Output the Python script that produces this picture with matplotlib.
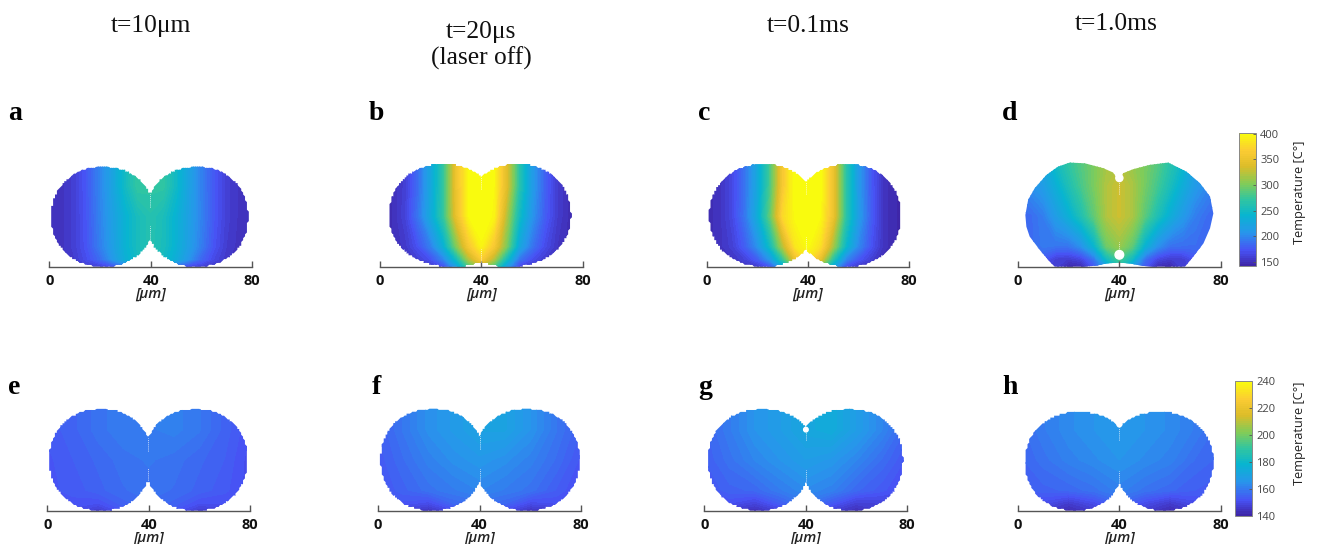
import numpy as np
import matplotlib
matplotlib.use("Agg")
import matplotlib.pyplot as plt
from matplotlib.colors import LinearSegmentedColormap, Normalize
from matplotlib.cm import ScalarMappable
from matplotlib.patches import Polygon, Circle

W, H = 1318, 544

parula_pos = [0.0, 0.11, 0.25, 0.38, 0.5, 0.62, 0.75, 0.87, 1.0]
parula_rgb = [(.2422, .1504, .6603), (.2810, .3228, .9579), (.1540, .5902, .9218),
              (.0297, .7082, .8163), (.1938, .7758, .6251), (.5044, .7993, .3480),
              (.8634, .7406, .1596), (.9856, .80, .20), (.9763, .9831, .0538)]
parula = LinearSegmentedColormap.from_list("parula", list(zip(parula_pos, parula_rgb)), N=64)

heights = [0, 3, 8, 20, 32, 41]

# temperature, rows bottom to top, columns evenly spaced over 0-80 um
temp_a = [
    [150, 150, 152, 158, 160, 170, 190, 225, 245, 225, 185, 165, 160, 155, 152, 150, 150],
    [150, 152, 158, 170, 185, 210, 235, 250, 258, 250, 232, 208, 182, 166, 155, 150, 150],
    [150, 153, 160, 174, 195, 216, 238, 254, 262, 254, 237, 216, 194, 172, 158, 152, 150],
    [150, 153, 160, 175, 197, 218, 238, 254, 263, 255, 238, 218, 197, 175, 160, 153, 150],
    [150, 153, 160, 176, 198, 222, 250, 272, 270, 270, 248, 220, 196, 175, 160, 153, 150],
    [150, 153, 160, 176, 198, 222, 250, 272, 270, 270, 248, 220, 196, 175, 160, 153, 150],
]
temp_b = [
    [148, 148, 150, 152, 155, 170, 215, 280, 320, 280, 215, 165, 155, 150, 148, 146, 145],
    [148, 149, 152, 160, 172, 198, 250, 320, 365, 320, 252, 190, 170, 158, 150, 147, 145],
    [148, 150, 156, 172, 195, 235, 300, 360, 395, 360, 300, 225, 190, 168, 154, 148, 145],
    [148, 150, 162, 190, 228, 272, 345, 398, 410, 395, 320, 250, 208, 178, 158, 148, 145],
    [148, 150, 160, 185, 225, 270, 350, 400, 410, 398, 340, 265, 215, 180, 158, 148, 145],
    [148, 150, 160, 185, 225, 270, 350, 400, 410, 398, 340, 265, 215, 180, 158, 148, 145],
]
temp_c = [
    [146, 148, 150, 153, 156, 172, 225, 300, 340, 300, 225, 170, 155, 150, 146, 144, 143],
    [146, 150, 153, 162, 178, 210, 270, 350, 385, 345, 265, 200, 175, 160, 148, 145, 143],
    [148, 152, 160, 178, 205, 250, 320, 385, 400, 380, 315, 245, 200, 172, 152, 146, 143],
    [148, 152, 165, 190, 230, 290, 375, 400, 408, 398, 350, 268, 215, 178, 152, 146, 143],
    [148, 152, 165, 188, 225, 280, 360, 405, 410, 402, 350, 268, 212, 176, 152, 146, 143],
    [148, 152, 165, 188, 225, 280, 360, 405, 410, 402, 350, 268, 212, 176, 152, 146, 143],
]
temp_d = [
    [165, 160, 165, 160, 145, 148, 175, 215, 260, 215, 175, 148, 145, 160, 165, 165, 165],
    [175, 172, 175, 160, 158, 165, 190, 250, 280, 250, 188, 165, 158, 160, 172, 172, 170],
    [185, 185, 192, 190, 190, 205, 240, 295, 310, 290, 238, 205, 188, 186, 186, 182, 180],
    [185, 185, 195, 215, 235, 260, 290, 320, 330, 318, 288, 258, 233, 212, 195, 185, 180],
    [195, 205, 215, 235, 258, 280, 300, 320, 330, 318, 298, 278, 255, 232, 212, 200, 190],
    [200, 215, 225, 250, 270, 285, 300, 315, 320, 310, 300, 285, 265, 245, 215, 205, 195],
]
temp_e = [
    [150, 150, 146, 152, 155, 152, 146, 148, 148],
    [151, 152, 151, 155, 157, 155, 151, 151, 150],
    [152, 153, 155, 157, 158, 157, 155, 153, 150],
    [152, 154, 156, 158, 159, 158, 156, 154, 150],
    [153, 155, 158, 160, 160, 161, 159, 155, 151],
    [153, 155, 158, 160, 160, 161, 159, 155, 151],
]
temp_f = [
    [148, 147, 144, 150, 154, 150, 144, 146, 146],
    [150, 152, 150, 156, 158, 156, 150, 151, 148],
    [152, 155, 158, 160, 162, 160, 158, 154, 150],
    [153, 157, 161, 164, 166, 164, 161, 157, 152],
    [154, 159, 164, 167, 170, 170, 165, 159, 154],
    [154, 159, 164, 167, 170, 170, 165, 159, 154],
]
temp_g = [
    [148, 146, 143, 148, 155, 147, 143, 146, 146],
    [150, 151, 148, 154, 159, 153, 147, 148, 148],
    [152, 155, 156, 160, 163, 161, 156, 153, 150],
    [154, 158, 162, 165, 168, 166, 162, 157, 152],
    [155, 160, 165, 168, 172, 174, 168, 162, 155],
    [155, 160, 165, 168, 172, 174, 168, 162, 155],
]
temp_h = [
    [150, 146, 142, 146, 152, 146, 142, 146, 150],
    [152, 150, 146, 150, 156, 150, 146, 150, 152],
    [153, 155, 156, 158, 161, 158, 156, 154, 153],
    [155, 158, 161, 163, 165, 163, 161, 157, 155],
    [156, 160, 163, 165, 166, 165, 163, 160, 156],
    [156, 160, 163, 165, 166, 165, 163, 160, 156],
]

# silhouette read in um: left edge, neck x, right edge, top, notch top, notch bottom
shapes = {
    "a": (0.8, 39.8, 78.5, 39.5, 28.5, 10.9),
    "b": (3.6, 40.0, 75.4, 40.5, 35.5, 2.0),
    "c": (1.0, 39.3, 76.8, 40.5, 33.6, 6.8),
    "e": (0.7, 39.8, 79.0, 40.2, 28.7, 12.0),
    "f": (1.0, 40.0, 79.5, 40.2, 29.5, 11.5),
    "g": (1.4, 40.1, 78.4, 40.2, 33.0, 11.0),
    "h": (2.8, 40.0, 77.1, 39.0, 33.0, 10.7),
}
d_outline_x = [39.9, 37.5, 33.6, 26.4, 20.4, 15.8, 11.2, 6.6, 4.0, 2.9, 3.3, 4.6, 8.6, 12.5, 14.5,
               25.7, 31.0, 34.9, 39.5, 39.9, 44.0, 49.4, 53.4, 65.9, 69.2, 73.2, 75.8, 77.1, 75.8,
               71.8, 66.5, 59.3, 52.0, 45.5, 41.5]
d_outline_y = [33.6, 37.2, 38.9, 40.8, 41.1, 39.5, 36.2, 31.0, 26.4, 20.4, 15.8, 11.9, 6.6, 2.0, 0.0,
               0.0, 0.4, 1.3, 1.6, 1.6, 1.3, 0.3, 0.0, 0.0, 4.0, 9.2, 15.2, 21.0, 27.7,
               33.0, 37.5, 41.1, 40.2, 38.5, 36.9]
# little white holes at the neck: x, y, radius in um
holes = {"d": [(40, 4.7, 1.7), (40, 35, 1.4)], "g": [(40.1, 32, 0.9)], "h": [(40, 34, 0.9)]}

temps = {"a": temp_a, "b": temp_b, "c": temp_c, "d": temp_d,
         "e": temp_e, "f": temp_f, "g": temp_g, "h": temp_h}
# pixel spots: x of 0 um, x of 80 um, y of the scale line
frames = {"a": (49.3, 252, 266.7), "b": (380, 582.7, 266.7), "c": (706.7, 909, 266.7),
          "d": (1018, 1220.7, 266.7), "e": (47.3, 250, 510.7), "f": (378, 581, 510.7),
          "g": (704.3, 907, 510.7), "h": (1018, 1220.7, 510.7)}
letters = {"a": (8, 113), "b": (369, 113), "c": (698, 113), "d": (1002, 113),
           "e": (8, 388), "f": (372, 388), "g": (698, 388), "h": (1002, 388)}
headers = [("t=10\u03bcm", 151, 26), ("t=20\u03bcs", 481, 32), ("(laser off)", 481, 58),
           ("t=0.1ms", 808, 26), ("t=1.0ms", 1116, 24)]


def outline(shape, n=2.12):
    # two rounded lobes joined at the notches, snapped to the dot grid of the model
    left, neck, right, top, nt, nb = shape
    cy = top / 2
    xs, ys = [], []
    arcs = [(left, nt, 1, True), (left, nb, -1, False), (right, nb, -1, True), (right, nt, 1, False)]
    for edge, ny, sign, from_notch in arcs:
        side = 1 if edge > neck else -1
        rise = abs(ny - cy) / cy
        k = (1 - rise ** n) ** (1 / n)
        rx = abs(neck - edge) / (1 + k)
        cx = edge - side * rx
        start = np.pi - np.arcsin(rise ** (n / 2))
        phi = np.linspace(start, 0, 90) if from_notch else np.linspace(0, start, 90)
        c, s = np.cos(phi), np.sin(phi)
        xs.extend(cx + side * rx * np.sign(c) * np.abs(c) ** (2 / n))
        ys.extend(cy + sign * cy * np.abs(s) ** (2 / n))
    step = 0.75
    xs = np.round(np.array(xs) / step) * step
    ys = np.round(np.array(ys) / step) * step
    return np.column_stack([xs, np.clip(ys, 0, top)])


fig = plt.figure(figsize=(W / 100, H / 100), dpi=100)
fig.patch.set_facecolor("white")

for p in "abcdefgh":
    x0, x1, yb = frames[p]
    scale = (x1 - x0) / 80
    top_um = 45
    ax = fig.add_axes([x0 / W, 1 - yb / H, (x1 - x0) / W, top_um * scale / H])
    ax.set_xlim(0, 80)
    ax.set_ylim(0, top_um)
    ax.patch.set_alpha(0)

    z = np.array(temps[p], dtype=float)
    gx = np.linspace(0, 80, z.shape[1])
    if p in "abcd":
        vmin, vmax = 142, 402
    else:
        vmin, vmax = 140, 240
    levels = np.linspace(vmin, vmax, 65)
    cs = ax.contourf(gx, heights, z, levels=levels, cmap=parula, extend="both")

    if p == "d":
        poly = np.column_stack([d_outline_x, d_outline_y])
        neck, nt, nb = 40, 33.6, 4.7
    else:
        poly = outline(shapes[p])
        neck, nt, nb = shapes[p][1], shapes[p][4], shapes[p][5]
    clip = Polygon(poly, closed=True, transform=ax.transData, facecolor="none", edgecolor="none")
    ax.add_patch(clip)
    cs.set_clip_path(clip)

    # thin white slit left at the neck
    ax.plot([neck, neck], [nt - 5, nt], color="white", lw=0.6, ls=(0, (1, 1.5)))
    ax.plot([neck, neck], [nb, nb + 5], color="white", lw=0.6, ls=(0, (1, 1.5)))
    for hx, hy, hr in holes.get(p, []):
        ax.add_patch(Circle((hx, hy), hr, color="white", zorder=3))

    for s in ["top", "left", "right"]:
        ax.spines[s].set_visible(False)
    ax.spines["bottom"].set_color("#555555")
    ax.spines["bottom"].set_linewidth(1.0)
    ax.spines["bottom"].set_zorder(5)
    ax.set_yticks([])
    ax.set_xticks([0, 40, 80])
    ax.tick_params(axis="x", direction="in", length=4.2, width=1.0, color="#555555", pad=5)
    for lab in ax.get_xticklabels():
        lab.set_fontfamily("Open Sans")
        lab.set_fontweight("bold")
        lab.set_fontsize(10.5)
        lab.set_color("#111111")
    fig.text((x0 + x1) / 2 / W, 1 - (yb + 27.5) / H, "[\u03bcm]", family="Open Sans", style="italic",
             weight="semibold", fontsize=10.5, ha="center", va="center", color="#222222")

    lx, ly = letters[p]
    fig.text(lx / W, 1 - ly / H, p, family="Liberation Serif", weight="bold", fontsize=20,
             ha="left", va="center", color="black")

for label, x, y in headers:
    fig.text(x / W, 1 - y / H, label, family="Liberation Serif", fontsize=18.4,
             ha="center", va="center", color="#111111")

# colour bars
bars = [(1238.7, 1256, 132.7, 266, 142, 402, [150, 200, 250, 300, 350, 400], 192),
        (1234.7, 1252, 381, 515.7, 140, 240, [140, 160, 180, 200, 220, 240], 433)]
for bx0, bx1, by0, by1, vmin, vmax, ticks, label_y in bars:
    cax = fig.add_axes([bx0 / W, 1 - by1 / H, (bx1 - bx0) / W, (by1 - by0) / H])
    cb = fig.colorbar(ScalarMappable(Normalize(vmin, vmax), parula), cax=cax)
    cb.set_ticks(ticks)
    cb.outline.set_edgecolor("#888888")
    cb.outline.set_linewidth(0.7)
    cax.tick_params(direction="in", length=2, width=0.6, color="#555555", pad=3,
                    labelsize=8, labelcolor="#444444")
    for lab in cax.get_yticklabels():
        lab.set_fontfamily("Open Sans")
    fig.text(1300 / W, 1 - label_y / H, "Temperature [C\u00b0]", family="Open Sans", fontsize=9.2,
             rotation=90, ha="center", va="center", color="#222222")

fig.savefig("out.png", dpi=100)
